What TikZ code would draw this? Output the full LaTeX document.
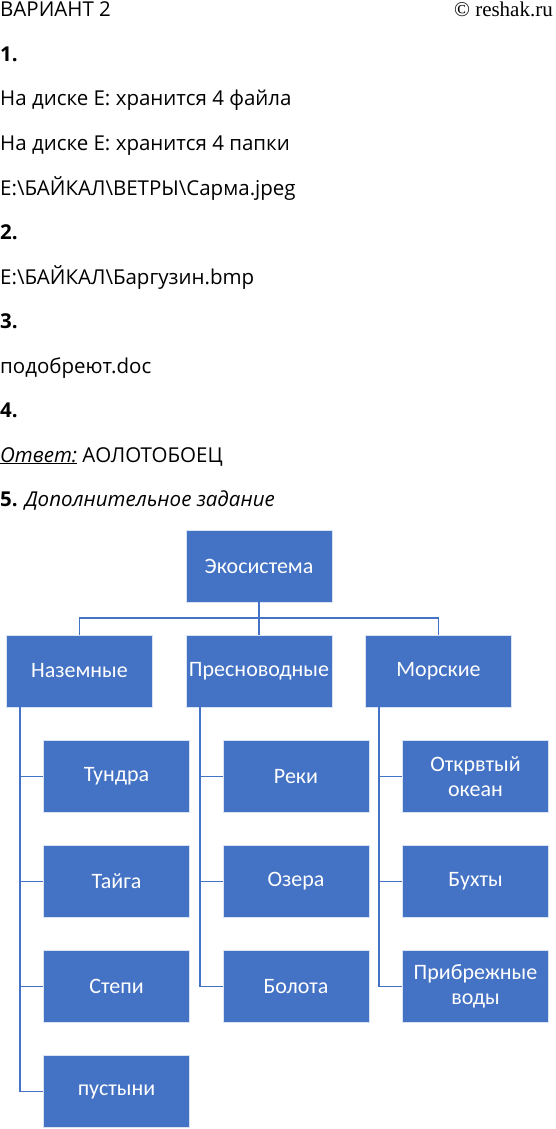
\documentclass[tikz,border=0pt]{standalone}
\usepackage{fontspec}
\setmainfont{Open Sans}
\newfontfamily\boxfont{Carlito}
\newfontfamily\signfont{Liberation Serif}
\usetikzlibrary{positioning}
\definecolor{smartblue}{RGB}{68,114,196}

\begin{document}
\begin{tikzpicture}[x=1pt, y=1pt,
    ecobox/.style={rectangle, fill=smartblue, draw=white!80!smartblue, line width=0.6pt,
      minimum width=146pt, minimum height=72pt, inner sep=2pt, text=white, align=center,
      font=\boxfont\fontsize{22}{25}\selectfont},
    link/.style={draw=smartblue, line width=1.3pt},
    textline/.style={anchor=base west, inner sep=0pt, font=\fontsize{20.5}{22}\selectfont}]
  \useasboundingbox (0,0) rectangle (556,-1129);

  % Header
  \node[textline] (head) at (0,-17) {ВАРИАНТ 2};
  \node[anchor=base east, inner sep=0pt, font=\signfont\fontsize{21}{22}\selectfont] (sign) at (553,-17) {© reshak.ru};

  % Answers
  \node[textline] (q1) at (0,-61.5) {\bfseries 1.};
  \node[textline] (a1) at (0,-106) {На диске Е: хранится 4 файла};
  \node[textline] (a2) at (0,-150.5) {На диске Е: хранится 4 папки};
  \node[textline] (a3) at (0,-195) {E:\textbackslash БАЙКАЛ\textbackslash ВЕТРЫ\textbackslash Сарма.jpeg};
  \node[textline] (q2) at (0,-239.5) {\bfseries 2.};
  \node[textline] (a4) at (0,-284) {E:\textbackslash БАЙКАЛ\textbackslash Баргузин.bmp};
  \node[textline] (q3) at (0,-328.5) {\bfseries 3.};
  \node[textline] (a5) at (0,-373) {подобреют.doc};
  \node[textline] (q4) at (0,-417.5) {\bfseries 4.};
  \node[textline] (a6) at (0,-462) {\underline{\itshape Ответ:} АОЛОТОБОЕЦ};
  \node[textline] (q5) at (0,-506.5) {\bfseries 5. \itshape\mdseries Дополнительное задание};

  % Ecosystem tree
  \node[ecobox] (root) at (259,-566) {Экосистема};
  \node[ecobox] (land) at (79.5,-671) {Наземные};
  \node[ecobox] (fresh) at (259,-671) {Пресноводные};
  \node[ecobox] (sea) at (438.5,-671) {Морские};

  \coordinate (fork) at (259,-618);
  \draw[link] (root.south) -- (fork);
  \draw[link] (land.north) |- (fork) -| (sea.north);
  \draw[link] (fork) -- (fresh.north);

  % Land types
  \foreach \nm/\txt/\row in {tundra/Тундра/0, taiga/Тайга/1, steppe/Степи/2, desert/пустыни/3}
    \node[ecobox] (\nm) at (116.5,{-776.5-105*\row}) {\txt};
  \coordinate (landbus) at ([xshift=-59.5pt]land.south);
  \foreach \nm in {tundra,taiga,steppe,desert}
    \draw[link] (landbus) |- (\nm.west);

  % Fresh water types
  \foreach \nm/\txt/\row in {river/Реки/0, lake/Озера/1, swamp/Болота/2}
    \node[ecobox] (\nm) at (296,{-776.5-105*\row}) {\txt};
  \coordinate (freshbus) at ([xshift=-59pt]fresh.south);
  \foreach \nm in {river,lake,swamp}
    \draw[link] (freshbus) |- (\nm.west);

  % Sea types
  \foreach \nm/\txt/\row in {ocean/{Открвтый\\океан}/0, bay/Бухты/1, coast/{Прибрежные\\воды}/2}
    \node[ecobox] (\nm) at (475.5,{-776.5-105*\row}) {\txt};
  \coordinate (seabus) at ([xshift=-59.5pt]sea.south);
  \foreach \nm in {ocean,bay,coast}
    \draw[link] (seabus) |- (\nm.west);

\end{tikzpicture}
\end{document}
